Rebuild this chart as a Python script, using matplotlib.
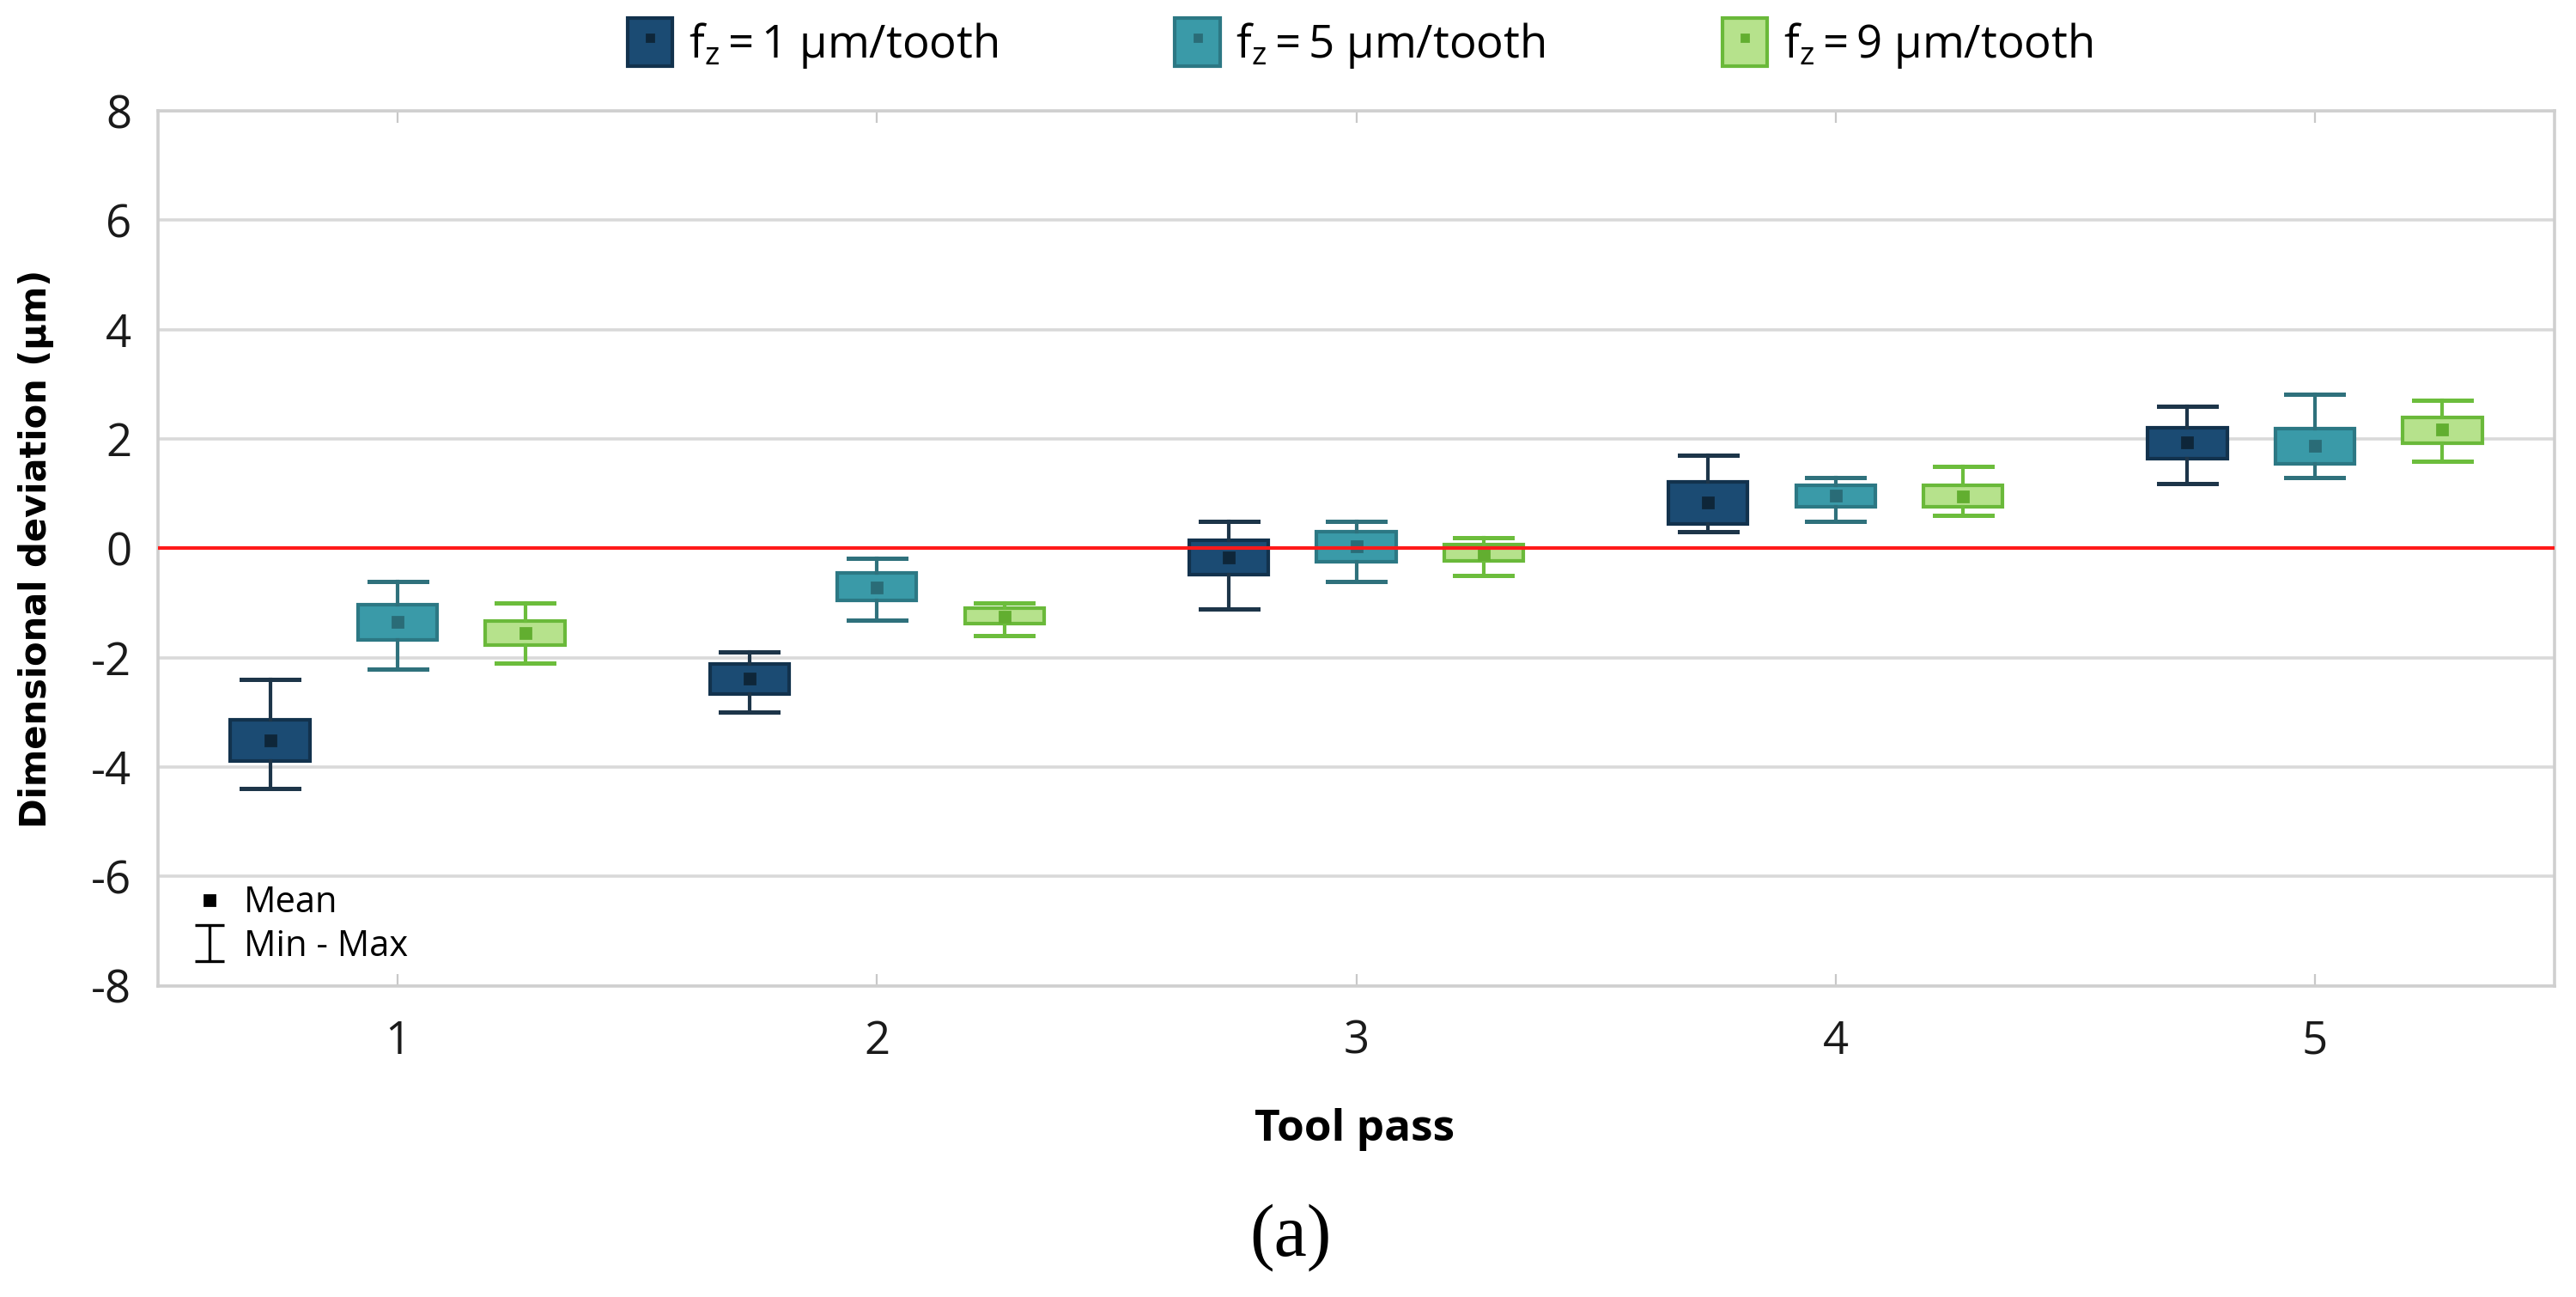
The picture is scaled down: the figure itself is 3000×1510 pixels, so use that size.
import matplotlib
matplotlib.use("Agg")
import matplotlib.pyplot as plt
from matplotlib.lines import Line2D
from matplotlib.patches import Patch
from matplotlib.path import Path

plt.rcParams['axes.unicode_minus'] = False
plt.rcParams['font.family'] = ['Open Sans', 'DejaVu Sans']

# tool passes and the three feed rates
passes = [1, 2, 3, 4, 5]
labels = ['f$_\\mathregular{z}$\u2009=\u20091 µm/tooth',
          'f$_\\mathregular{z}$\u2009=\u20095 µm/tooth',
          'f$_\\mathregular{z}$\u2009=\u20099 µm/tooth']

# fz = 1 um/tooth
f1_max = [-2.40, -1.90, 0.50, 1.70, 2.60]
f1_q3 = [-3.13, -2.11, 0.15, 1.22, 2.21]
f1_mean = [-3.51, -2.38, -0.17, 0.84, 1.93]
f1_q1 = [-3.89, -2.66, -0.48, 0.44, 1.64]
f1_min = [-4.40, -2.99, -1.11, 0.31, 1.19]

# fz = 5 um/tooth
f5_max = [-0.60, -0.19, 0.50, 1.30, 2.81]
f5_q3 = [-1.03, -0.45, 0.30, 1.16, 2.19]
f5_mean = [-1.35, -0.71, 0.03, 0.96, 1.87]
f5_q1 = [-1.67, -0.95, -0.24, 0.76, 1.54]
f5_min = [-2.21, -1.31, -0.60, 0.50, 1.29]

# fz = 9 um/tooth
f9_max = [-1.00, -1.00, 0.20, 1.50, 2.70]
f9_q3 = [-1.33, -1.10, 0.07, 1.15, 2.40]
f9_mean = [-1.55, -1.25, -0.10, 0.95, 2.17]
f9_q1 = [-1.77, -1.38, -0.23, 0.76, 1.92]
f9_min = [-2.10, -1.60, -0.50, 0.60, 1.59]

series = [
    (f1_min, f1_q1, f1_mean, f1_q3, f1_max),
    (f5_min, f5_q1, f5_mean, f5_q3, f5_max),
    (f9_min, f9_q1, f9_mean, f9_q3, f9_max),
]
# fill, edge, whisker, mean marker
colours = [
    ('#1b4b73', '#12324d', '#1d3549', '#0e2639'),
    ('#3a9aa8', '#2c7884', '#2f717c', '#2a6c77'),
    ('#b6e28c', '#6ab93a', '#6cbd3c', '#62ae30'),
]
offsets = [-0.266, 0.0, 0.266]

fig = plt.figure(figsize=(15, 7.55), dpi=200)
ax = fig.add_axes([0.0613, 0.240, 0.9304, 0.6745])

handles = []
for (mn, q1, mean, q3, mx), (fc, ec, wc, mc), off in zip(series, colours, offsets):
    stats = []
    for i in range(len(passes)):
        stats.append({'whislo': mn[i], 'q1': q1[i], 'med': mean[i],
                      'mean': mean[i], 'q3': q3[i], 'whishi': mx[i],
                      'fliers': []})
    ax.bxp(stats, positions=[p + off for p in passes], widths=0.165,
           capwidths=0.12, patch_artist=True, showmeans=True,
           showfliers=False, manage_ticks=False,
           boxprops=dict(facecolor=fc, edgecolor=ec, linewidth=1.5),
           whiskerprops=dict(color=wc, linewidth=1.5),
           capprops=dict(color=wc, linewidth=1.8),
           medianprops=dict(linewidth=0),
           meanprops=dict(marker='s', markerfacecolor=mc,
                          markeredgecolor=mc, markersize=4),
           zorder=3)
    handles.append((Patch(facecolor=fc, edgecolor=ec, linewidth=1.5),
                    Line2D([], [], marker='s', linestyle='none',
                           markerfacecolor=mc, markeredgecolor=mc,
                           markersize=3)))

ax.axhline(0, color='#ff1a1a', linewidth=1.5, zorder=4)

ax.set_xlim(0.5, 5.5)
ax.set_ylim(-8, 8)
ax.set_yticks(range(-8, 9, 2))
ax.set_xticks(passes)
ax.set_xticklabels([str(p) for p in passes])
ax.grid(axis='y', color='#d9d9d9', linewidth=1.3, zorder=0)
ax.set_axisbelow(True)
for s in ax.spines.values():
    s.set_color('#cfcfcf')
    s.set_linewidth(1.3)
ax.tick_params(axis='x', direction='in', top=True, length=5, width=0.8,
               color='#c8c8c8', labelsize=19, pad=14, labelcolor='#1a1a1a')
ax.tick_params(axis='y', length=0, labelsize=19, pad=11, labelcolor='#1a1a1a')

# top legend with the three feed rates
leg = fig.legend(handles, labels, loc='center', bbox_to_anchor=(0.528, 0.966),
                 ncol=3, frameon=False, fontsize=19, handlelength=1.0,
                 handleheight=1.25, handletextpad=0.35, columnspacing=3.9)

# small key for mean and min-max inside the axes
ibar = Path([(-0.8, -1), (0.8, -1), (0, -1), (0, 1), (-0.8, 1), (0.8, 1)],
            [Path.MOVETO, Path.LINETO, Path.MOVETO, Path.LINETO,
             Path.MOVETO, Path.LINETO])
key = [Line2D([], [], marker='s', linestyle='none', color='black',
              markersize=4),
       Line2D([], [], marker=ibar, linestyle='none', color='black',
              markersize=15, markeredgewidth=1.2, fillstyle='none')]
ax.legend(key, ['Mean', 'Min - Max'], loc='lower left',
          bbox_to_anchor=(0.006, 0.0), frameon=False, fontsize=15,
          handlelength=0.9, handletextpad=0.5, labelspacing=0.2,
          borderaxespad=0.2)

fig.text(0.014, 0.577, 'Dimensional deviation (µm)', rotation=90,
         ha='center', va='center', fontsize=15, fontweight='bold',
         family='DejaVu Sans')
fig.text(0.526, 0.129, 'Tool pass', ha='center', va='center', fontsize=18.5,
         fontweight='bold')
fig.text(0.501, 0.046, '(a)', ha='center', va='center', fontsize=31,
         family='Liberation Serif')

fig.savefig('out.png', dpi=200)
